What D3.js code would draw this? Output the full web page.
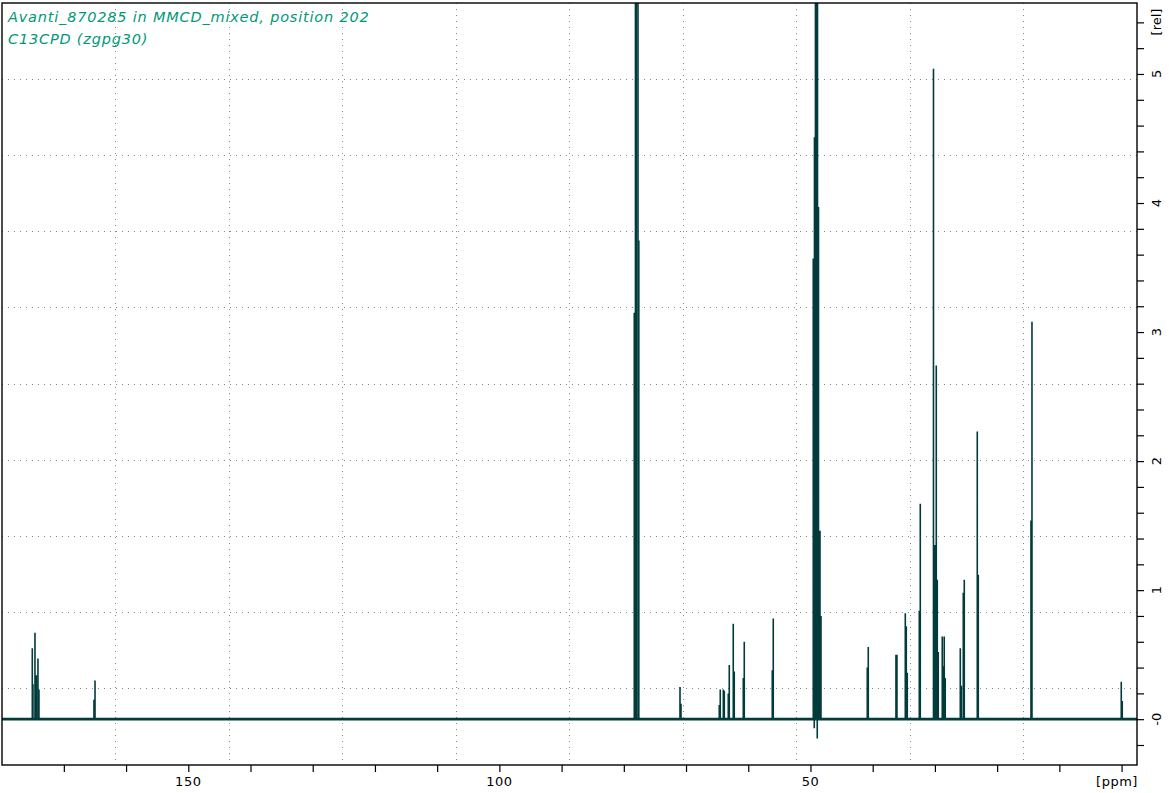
<!DOCTYPE html>
<html><head><meta charset="utf-8">
<script src="https://cdn.jsdelivr.net/npm/d3@7"></script>
<style>body{margin:0;background:#fff;} svg{display:block}</style>
</head><body>
<svg id="c" width="1169" height="793"></svg>
<script>
// ---- data ----
const titleLines = ["Avanti_870285 in MMCD_mixed, position 202", "C13CPD (zgpg30)"];
const xDomain = [179.94, -2.48];          // ppm, left -> right
const yDomain = [-0.355, 5.55];           // rel
const xTickValues = [0,10,20,30,40,50,60,70,80,90,100,110,120,130,140,150,160,170];
const xTickLabels = [50,100,150];
const xUnit = "[ppm]";
const yTickValues = [-0.2,0,0.2,0.4,0.6,0.8,1,1.2,1.4,1.6,1.8,2,2.2,2.4,2.6,2.8,3,3.2,3.4,3.6,3.8,4,4.2,4.4,4.6,4.8,5,5.2,5.4];
const yTickLabels = [0,1,2,3,4,5];
const yTickText = ["-0","1","2","3","4","5"];
const yUnit = "[rel]";
const peakPpm = [175.07,174.96,174.64,174.43,174.16,174.00,165.16,164.99,
  78.32,78.13,78.00,77.72,77.59,70.97,70.81,
  64.66,64.50,64.01,63.85,63.21,63.05,62.41,62.25,60.80,60.64,56.14,55.98,
  49.55,49.39,49.36,49.20,49.04,48.91,48.87,48.71,48.47,48.31,
  40.87,40.71,36.26,36.10,34.76,34.60,34.44,32.51,32.35,
  30.23,29.99,29.78,29.62,29.46,28.82,28.66,28.50,28.34,
  25.92,25.76,25.44,25.28,23.19,23.03,14.56,14.40,0.05,-0.11];
const peakRel = [0.55,0.27,0.67,0.34,0.47,0.23,0.15,0.30,
  3.15,9,9,9,3.71,0.25,0.12,
  0.11,0.23,0.23,0.22,0.20,0.42,0.74,0.37,0.32,0.60,0.38,0.78,
  3.57,-0.07,4.51,9,9,-0.15,9,3.97,1.46,0.80,
  0.40,0.56,0.50,0.50,0.82,0.72,0.36,0.84,1.67,
  5.04,1.35,2.74,1.08,0.52,0.64,0.41,0.64,0.32,
  0.55,0.26,0.98,1.08,2.23,1.12,1.54,3.08,0.29,0.14];

// ---- layout ----
const L = 2, R = 1137, T = 3, B = 765;
const specColor = "#023b3b", titleColor = "#009878", gridColor = "#8a8a8a";
const svg = d3.select("#c");
const x = d3.scaleLinear().domain(xDomain).range([L, R]);
const y = d3.scaleLinear().domain(yDomain).range([B, T]);

svg.append("defs").append("clipPath").attr("id","clip")
  .append("rect").attr("x",L).attr("y",T).attr("width",R-L).attr("height",B-T);

// grid: 10 equal divisions of the plot frame
const g = svg.append("g");
for (let k = 1; k < 10; k++) {
  const gx = L + k*(R-L)/10, gy = T + k*(B-T)/10;
  g.append("line").attr("x1",gx).attr("x2",gx).attr("y1",T).attr("y2",B)
    .attr("stroke",gridColor).attr("stroke-width",1).attr("stroke-dasharray","1 5")
    .attr("shape-rendering","crispEdges");
  g.append("line").attr("x1",L).attr("x2",R).attr("y1",gy).attr("y2",gy)
    .attr("stroke",gridColor).attr("stroke-width",1).attr("stroke-dasharray","1 5")
    .attr("shape-rendering","crispEdges");
}

// spectrum
const peaks = peakPpm.map((p,i)=>({p, h: peakRel[i]})).sort((a,b)=>b.p-a.p);
const pts = [[xDomain[0],0]];
peaks.forEach(d => { pts.push([d.p,0],[d.p,d.h],[d.p,0]); });
pts.push([xDomain[1],0]);
const plot = svg.append("g").attr("clip-path","url(#clip)");
plot.append("line").attr("x1",x(xDomain[0])).attr("x2",x(xDomain[1]))
  .attr("y1",y(0)).attr("y2",y(0)).attr("stroke",specColor).attr("stroke-width",2.8);
plot.append("path").datum(pts)
  .attr("d", d3.line().x(d=>x(d[0])).y(d=>y(d[1])))
  .attr("fill","none").attr("stroke",specColor).attr("stroke-width",1.6);

// frame
svg.append("rect").attr("x",L).attr("y",T).attr("width",R-L).attr("height",B-T)
  .attr("fill","none").attr("stroke","#000").attr("stroke-width",1.4);

// x axis
const xa = svg.append("g").attr("transform",`translate(0,${B})`)
  .call(d3.axisBottom(x).tickValues(xTickValues).tickSize(7).tickFormat(""));
xa.select(".domain").remove();
xa.selectAll("line").attr("stroke","#000").attr("stroke-width",1.2);
svg.selectAll(".xl").data(xTickLabels).join("text").attr("class","xl")
  .attr("x",d=>x(d)).attr("y",786).attr("text-anchor","middle")
  .attr("font-family","DejaVu Sans").attr("font-size",13).attr("letter-spacing",0.5)
  .attr("fill","#000").text(d=>d);
svg.append("text").attr("x",1117).attr("y",786).attr("text-anchor","middle")
  .attr("font-family","DejaVu Sans").attr("font-size",13).attr("letter-spacing",0.5)
  .attr("fill","#000").text(xUnit);

// y axis (right)
const ya = svg.append("g").attr("transform",`translate(${R},0)`)
  .call(d3.axisRight(y).tickValues(yTickValues).tickSize(7).tickFormat(""));
ya.select(".domain").remove();
ya.selectAll("line").attr("stroke","#000").attr("stroke-width",1.2);
svg.selectAll(".yl").data(yTickLabels).join("text").attr("class","yl")
  .attr("transform",d=>`translate(1156,${y(d)}) rotate(-90)`)
  .attr("text-anchor","middle").attr("dominant-baseline","central")
  .attr("font-family","DejaVu Sans").attr("font-size",13)
  .attr("fill","#000").text((d,i)=>yTickText[i]);
svg.append("text").attr("transform","translate(1156,22) rotate(-90)")
  .attr("text-anchor","middle").attr("dominant-baseline","central")
  .attr("font-family","DejaVu Sans").attr("font-size",13)
  .attr("fill","#000").text(yUnit);

// title
svg.selectAll(".tt").data(titleLines).join("text").attr("class","tt")
  .attr("x",8).attr("y",(d,i)=>22+i*22)
  .attr("font-family","DejaVu Sans").attr("font-style","italic")
  .attr("font-size",14.5).attr("letter-spacing",0.8)
  .attr("fill",titleColor).text(d=>d);
</script>
</body></html>
